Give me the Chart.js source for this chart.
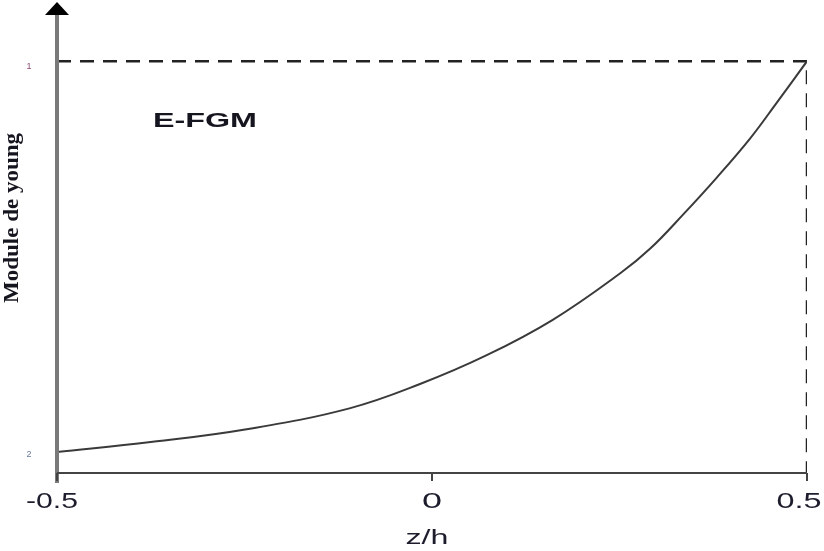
<!DOCTYPE html>
<html>
<head>
<meta charset="utf-8">
<script src="https://cdn.jsdelivr.net/npm/chart.js@4"></script>
<style>
  html, body { margin: 0; padding: 0; background: #fff; }
  canvas { display: block; }
</style>
</head>
<body>
<canvas id="young" width="824" height="551"></canvas>
<script>
// values
var zValues     = [-0.5, -0.375, -0.245, -0.11, -0.016, 0.073, 0.161, 0.251, 0.291, 0.335, 0.38, 0.424, 0.46, 0.5];
var youngValues = [0.051, 0.075, 0.107, 0.157, 0.216, 0.286, 0.372, 0.485, 0.545, 0.628, 0.718, 0.812, 0.900, 1.0];
var xTickValues = [-0.5, 0, 0.5];
var xTickLabels = ['-0.5', '0', '0.5'];
var yTickValues = [1, 0.051];
var yTickLabels = ['1', '2'];
var guideX = [-0.5, 0.5, 0.5];
var guideY = [1, 1, 0];

// draw text squeezed/stretched to a given width (the picture is stretched sideways)
function stretchedText(ctx, text, cx, cy, font, width, color, angle) {
  ctx.save();
  ctx.font = font;
  ctx.fillStyle = color;
  ctx.textAlign = 'center';
  ctx.textBaseline = 'middle';
  ctx.translate(cx, cy);
  if (angle) ctx.rotate(angle);
  var w = ctx.measureText(text).width;
  ctx.scale(width / w, 1);
  ctx.fillText(text, 0, 0);
  ctx.restore();
}

var decorations = {
  id: 'decorations',
  afterDatasetsDraw: function(chart) {
    var ctx = chart.ctx, x = chart.scales.x, y = chart.scales.y;
    var x0 = x.getPixelForValue(-0.5), y0 = y.getPixelForValue(0);
    ctx.save();
    // y axis with arrow
    ctx.strokeStyle = '#7a7a7a';
    ctx.lineWidth = 4;
    ctx.beginPath();
    ctx.moveTo(x0, y0 + 10);
    ctx.lineTo(x0, 12);
    ctx.stroke();
    ctx.fillStyle = '#000';
    ctx.beginPath();
    ctx.moveTo(x0, 2);
    ctx.lineTo(x0 - 12, 15);
    ctx.lineTo(x0 + 12, 15);
    ctx.closePath();
    ctx.fill();
    // x axis and ticks
    ctx.strokeStyle = '#444';
    ctx.lineWidth = 2;
    ctx.beginPath();
    ctx.moveTo(x0, y0);
    ctx.lineTo(x.getPixelForValue(0.5), y0);
    xTickValues.forEach(function(v) {
      var px = x.getPixelForValue(v);
      ctx.moveTo(px, y0);
      ctx.lineTo(px, y0 + 8);
    });
    ctx.stroke();
    ctx.restore();

    // tick labels
    xTickValues.forEach(function(v, i) {
      var w = xTickLabels[i].length === 1 ? 20 : (xTickLabels[i].length === 3 ? 45 : 52);
      var cx = x.getPixelForValue(v) + (i === 0 ? -5 : (i === 2 ? -8 : 0));
      stretchedText(ctx, xTickLabels[i], cx, y0 + 29, '22px "Liberation Sans", Arial, sans-serif', w, '#1c1c2c');
    });
    yTickValues.forEach(function(v, i) {
      stretchedText(ctx, yTickLabels[i], 29, y.getPixelForValue(v) + (i === 0 ? 5 : 3), '9px "Liberation Sans", sans-serif', 5,
        i === 0 ? '#8a4a70' : '#6a7a9a');
    });
    stretchedText(ctx, 'z/h', 427, y0 + 65, '21px "Liberation Sans", Arial, sans-serif', 43, '#1c1c2c');
    stretchedText(ctx, 'E-FGM', 205, 121, 'bold 21px "Liberation Sans", Arial, sans-serif', 104, '#15151f');
    stretchedText(ctx, 'Module de young', 13, 218, 'bold 20px "Liberation Serif", "Times New Roman", serif', 170, '#15151f', -Math.PI / 2);
  }
};

new Chart(document.getElementById('young'), {
  type: 'line',
  data: {
    datasets: [
      {
        data: zValues.map(function(z, i) { return { x: z, y: youngValues[i] }; }),
        borderColor: '#3a3a3a',
        borderWidth: 2,
        pointRadius: 0,
        tension: 0.4,
        fill: false
      },
      {
        data: guideX.map(function(g, i) { return { x: g, y: guideY[i] }; }),
        borderColor: '#222',
        borderWidth: 2.5,
        borderDash: [14, 9],
        pointRadius: 0,
        tension: 0,
        fill: false
      }
    ]
  },
  options: {
    responsive: false,
    animation: false,
    layout: { padding: { left: 57, right: 17, top: 20, bottom: 78 } },
    plugins: { legend: { display: false }, tooltip: { enabled: false } },
    scales: {
      x: { type: 'linear', min: -0.5, max: 0.5, display: false },
      y: { type: 'linear', min: 0, max: 1.1, display: false }
    }
  },
  plugins: [decorations]
});
</script>
</body>
</html>
